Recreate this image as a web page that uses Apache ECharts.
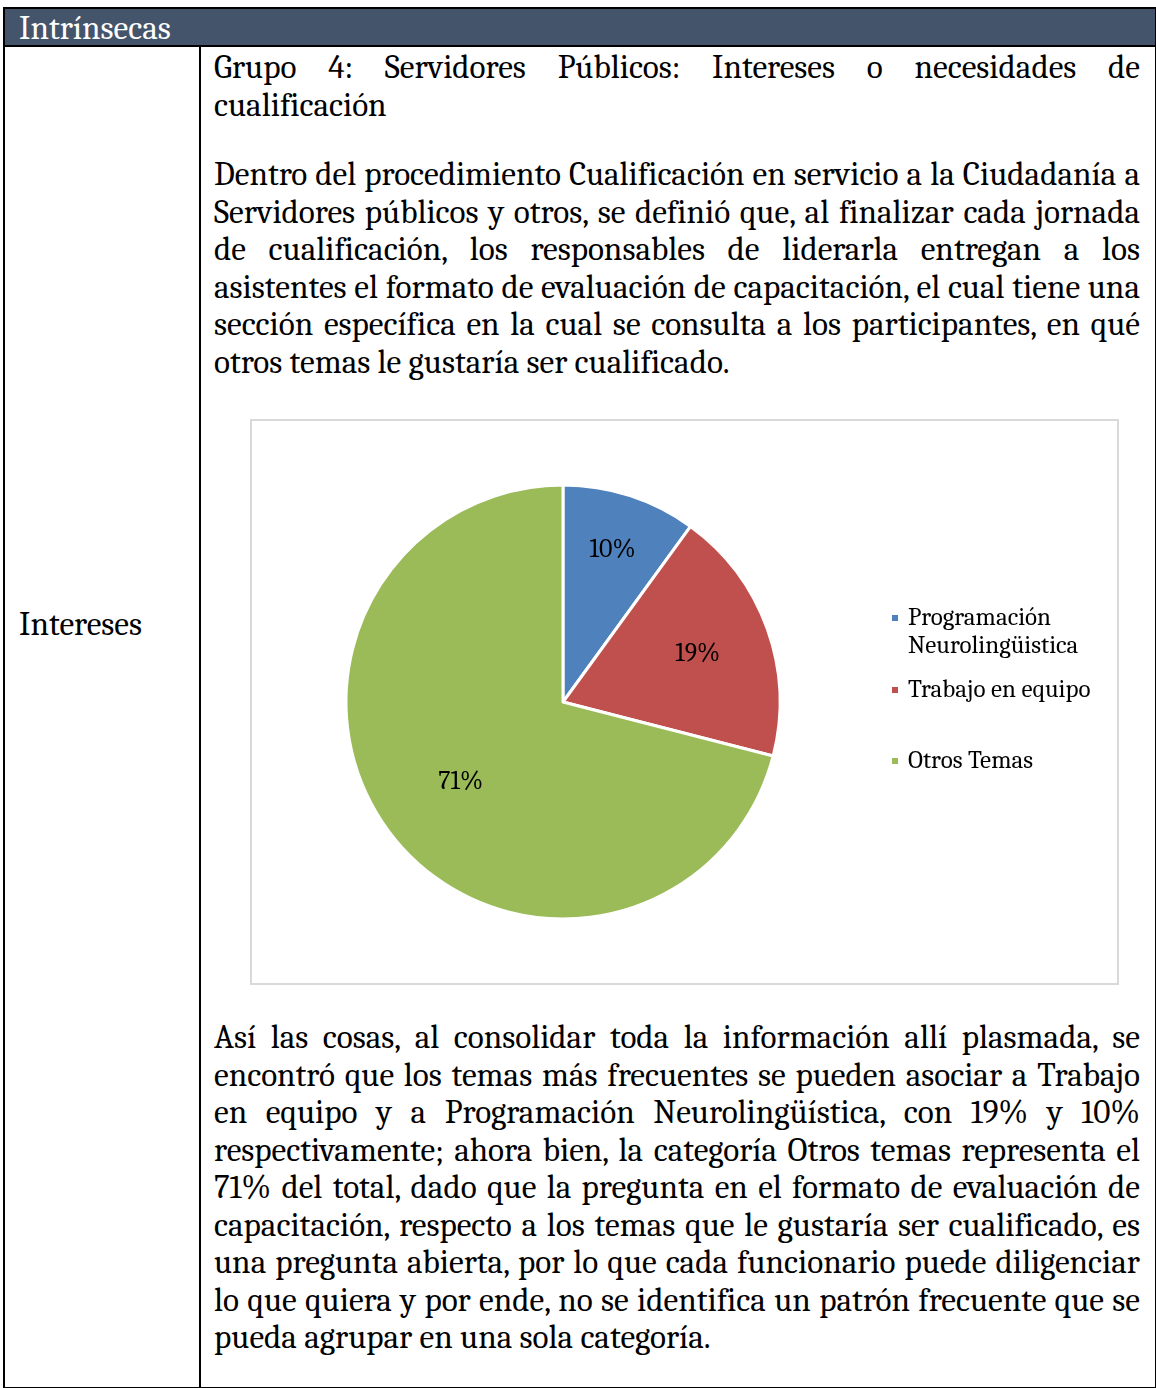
<!DOCTYPE html>
<html>
<head>
<meta charset="utf-8">
<script src="https://cdn.jsdelivr.net/npm/echarts@6/dist/echarts.min.js"></script>
<style>
  html, body { margin:0; padding:0; background:#fff; }
  body { width:1156px; height:1388px; position:relative; overflow:hidden; font-family:Caladea, Cambria, "Liberation Serif", serif; color:#000; }
  .abs { position:absolute; }
  .frame { left:3px; top:7px; width:1150px; height:1378px; border:2px solid #000; }
  .hdr { left:5px; top:9px; width:1150px; height:36px; background:#44546A; }
  .hdrline { left:3px; top:45px; width:1154px; height:2px; background:#000; }
  .vline { left:199px; top:46px; width:2px; height:1341px; background:#000; }
  .hdrtxt { left:19px; top:9px; line-height:38px; font-size:33.2px; color:#fff; }
  .lefttxt { left:19px; top:605px; line-height:38px; font-size:33.2px; }
  .para { left:214px; width:926px; font-size:33.2px; line-height:37.5px; }
  .para div { text-align:justify; text-align-last:justify; white-space:nowrap; }
  .para div.last { text-align:left; text-align-last:left; }
  #chart { left:250px; top:419px; width:870px; height:567px; }
</style>
</head>
<body>
<div class="abs frame"></div>
<div class="abs hdr"></div>
<div class="abs hdrline"></div>
<div class="abs vline"></div>
<div class="abs hdrtxt">Intrínsecas</div>
<div class="abs lefttxt">Intereses</div>

<div class="abs para" style="top:49px">
  <div>Grupo 4: Servidores Públicos: Intereses o necesidades de</div>
  <div class="last">cualificación</div>
</div>

<div class="abs para" style="top:156px">
  <div>Dentro del procedimiento Cualificación en servicio a la Ciudadanía a</div>
  <div>Servidores públicos y otros, se definió que, al finalizar cada jornada</div>
  <div>de cualificación, los responsables de liderarla entregan a los</div>
  <div>asistentes el formato de evaluación de capacitación, el cual tiene una</div>
  <div>sección específica en la cual se consulta a los participantes, en qué</div>
  <div class="last">otros temas le gustaría ser cualificado.</div>
</div>

<div class="abs para" style="top:1019px">
  <div>Así las cosas, al consolidar toda la información allí plasmada, se</div>
  <div>encontró que los temas más frecuentes se pueden asociar a Trabajo</div>
  <div>en equipo y a Programación Neurolingüística, con 19% y 10%</div>
  <div>respectivamente; ahora bien, la categoría Otros temas representa el</div>
  <div>71% del total, dado que la pregunta en el formato de evaluación de</div>
  <div>capacitación, respecto a los temas que le gustaría ser cualificado, es</div>
  <div>una pregunta abierta, por lo que cada funcionario puede diligenciar</div>
  <div>lo que quiera y por ende, no se identifica un patrón frecuente que se</div>
  <div class="last">pueda agrupar en una sola categoría.</div>
</div>

<div id="chart" class="abs"></div>

<script>
// ---- data ----
const categories = ['Programación\nNeurolingüistica', 'Trabajo en equipo', 'Otros Temas'];
const values = [10, 19, 71];
const colors = ['#4F81BD', '#C0504D', '#9BBB59'];
// radial position of each percentage label as a fraction of the radius
const labelRadiusFrac = [0.74, 0.66, 0.597];

const CX = 313, CY = 283, R = 217;
const total = values.reduce((a, b) => a + b, 0);
const midAngles = [];
let cum = 0;
values.forEach(v => { midAngles.push(2 * Math.PI * (cum + v / 2) / total); cum += v; });

const chart = echarts.init(document.getElementById('chart'), null, { renderer: 'canvas' });
const fontFam = 'Caladea, Cambria, "Liberation Serif", serif';

const legendTops = [152, 252, 323];
const legends = categories.map((name, i) => ({
  orient: 'vertical',
  left: 635,
  top: legendTops[i],
  data: [name],
  icon: 'rect',
  itemWidth: 8,
  itemHeight: 8,
  itemGap: 0,
  selectedMode: false,
  formatter: function (n) {
    const lines = n.split('\n').map(l => '{s| }{t|' + l + '}');
    if (lines.length > 1) lines.unshift('{s| }');
    return lines.join('\n');
  },
  textStyle: {
    fontFamily: fontFam,
    fontSize: 25,
    lineHeight: 28,
    color: '#000',
    rich: {
      s: { width: 4, fontSize: 25, lineHeight: 28, fontFamily: fontFam },
      t: { fontSize: 25, lineHeight: 28, fontFamily: fontFam, color: '#000' }
    }
  }
}));

chart.setOption({
  animation: false,
  backgroundColor: '#fff',
  color: colors,
  legend: legends,
  graphic: [{
    type: 'rect',
    shape: { x: 1, y: 1, width: 867, height: 564 },
    style: { fill: 'none', stroke: '#D9D9D9', lineWidth: 2 },
    silent: true
  }],
  series: [{
    type: 'pie',
    center: [CX, CY],
    radius: [0, R],
    startAngle: 90,
    clockwise: true,
    avoidLabelOverlap: false,
    itemStyle: { borderColor: '#fff', borderWidth: 3 },
    label: {
      show: true,
      position: 'inside',
      formatter: '{d}%',
      fontFamily: fontFam,
      fontSize: 26,
      color: '#000'
    },
    labelLine: { show: false },
    labelLayout: function (p) {
      const a = midAngles[p.dataIndex];
      const f = labelRadiusFrac[p.dataIndex];
      return { x: CX + f * R * Math.sin(a), y: CY - f * R * Math.cos(a), align: 'center', verticalAlign: 'middle' };
    },
    emphasis: { disabled: true },
    data: categories.map((n, i) => ({ name: n, value: values[i] }))
  }]
});
</script>
</body>
</html>
